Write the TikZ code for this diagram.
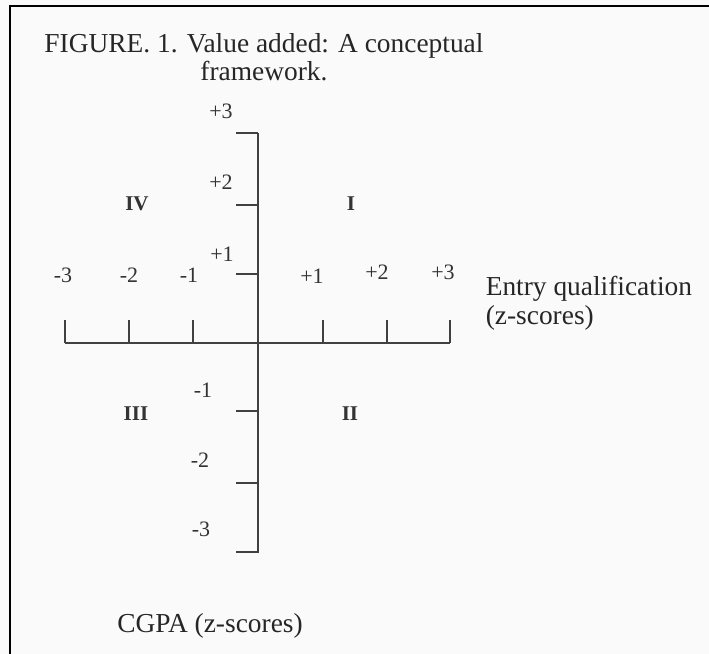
\documentclass[tikz,border=0pt]{standalone}
\usepackage{fontspec}
\setmainfont{Liberation Serif}
\usetikzlibrary{positioning}

\begin{document}
\begin{tikzpicture}[x=0.5pt,y=-0.5pt,line width=0.8pt,
    axis line/.style={draw=black!75},
    tick label/.style={inner sep=0pt,text=black!80,font=\fontsize{11}{12}\selectfont},
    quadrant/.style={inner sep=0pt,text=black!80,font=\fontsize{10.5}{12}\selectfont\bfseries},
    caption text/.style={inner sep=0pt,text=black!85,font=\fontsize{13.7}{14.3}\selectfont}]

                \fill[black!2] (0,0) rectangle (709,654);
                \useasboundingbox (0,0) rectangle (709,654);
                \draw[line width=1.1pt] (10,654) -- (10,6) -- (709,6);

                \node[caption text, align=center]  (title) at (264,57) {FIGURE. 1. Value added: A conceptual\\framework.};
                \node[caption text, align=left, anchor=west]  (xname) at (485,303) {Entry qualification\\(z-scores)};
                \node[caption text]  (yname) at (210,626) {CGPA (z-scores)};

                % axes
                \coordinate (o) at (258,343);
                \coordinate (xl) at (65,343);
                \coordinate (xr) at (450,343);
                \coordinate (yt) at (258,133);
                \coordinate (yb) at (258,553);
                \path[axis line] (xl) edge (xr) (yt) edge (yb);

                % ticks on the x axis
                \foreach \x in {65,129,193,323,387,450}
                    \draw[axis line] (\x,343) -- (\x,320);
                % ticks on the y axis
                \foreach \y in {133,205,274,411,483,552}
                    \draw[axis line] (236,\y) -- (258,\y);

                \node[tick label]  (xm3) at (63,275) {-3};
                \node[tick label]  (xm2) at (129,275) {-2};
                \node[tick label]  (xm1) at (189,275) {-1};
                \node[tick label]  (xp1) at (312,276) {+1};
                \node[tick label]  (xp2) at (377,272) {+2};
                \node[tick label]  (xp3) at (443,272) {+3};

                \node[tick label]  (yp3) at (221,111) {+3};
                \node[tick label]  (yp2) at (221,182) {+2};
                \node[tick label]  (yp1) at (222,254) {+1};
                \node[tick label]  (ym1) at (203,390) {-1};
                \node[tick label]  (ym2) at (200,460) {-2};
                \node[tick label]  (ym3) at (201,529) {-3};

                \node[quadrant]  (q1) at (351,204) {I};
                \node[quadrant]  (q2) at (350,414) {II};
                \node[quadrant]  (q3) at (136,414) {III};
                \node[quadrant]  (q4) at (137,204) {IV};
            \end{tikzpicture}
\end{document}
